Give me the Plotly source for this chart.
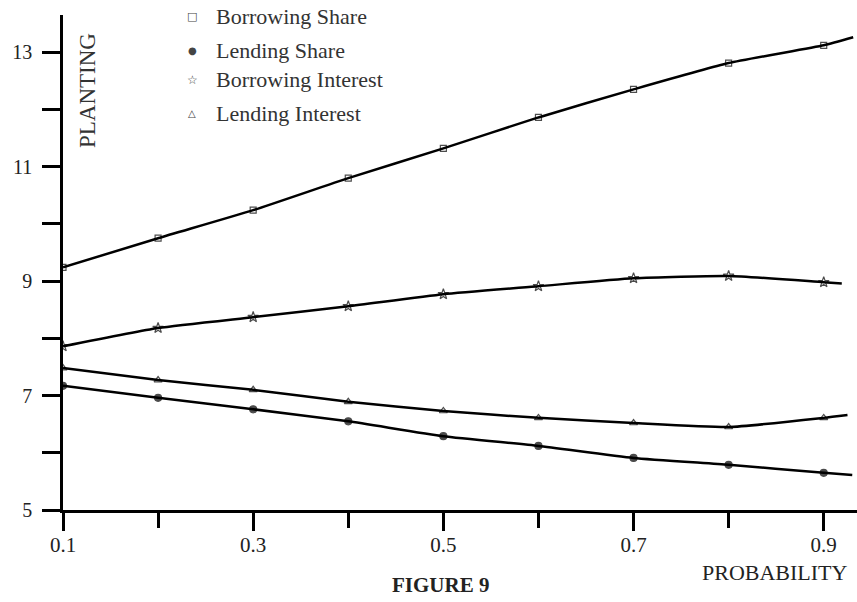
import plotly.graph_objects as go

# ---- data ----
probability = [0.1, 0.2, 0.3, 0.4, 0.5, 0.6, 0.7, 0.8, 0.9]

series_names = ["Borrowing Share", "Lending Share", "Borrowing Interest", "Lending Interest"]
borrowing_share = [9.24, 9.75, 10.24, 10.80, 11.32, 11.86, 12.35, 12.81, 13.12]
lending_share = [7.17, 6.96, 6.76, 6.55, 6.29, 6.12, 5.91, 5.79, 5.65]
borrowing_interest = [7.86, 8.18, 8.37, 8.56, 8.77, 8.91, 9.05, 9.09, 8.98]
lending_interest = [7.48, 7.27, 7.10, 6.89, 6.73, 6.61, 6.52, 6.45, 6.61]

# where each curve runs off past the last marked point
tail_x = [0.931, 0.93, 0.919, 0.925]
tail_y = [13.26, 5.61, 8.96, 6.66]

x_major_vals = [0.1, 0.3, 0.5, 0.7, 0.9]
x_major_text = ["0.1", "0.3", "0.5", "0.7", "0.9"]
x_minor_vals = [0.2, 0.4, 0.6, 0.8]
y_tick_vals = [5, 6, 7, 8, 9, 10, 11, 12, 13]
y_tick_text = ["5", "", "7", "", "9", "", "11", "", "13"]

values = [borrowing_share, lending_share, borrowing_interest, lending_interest]
symbols = ["square-open", "circle", "star-open", "triangle-up-open"]
sizes = [6, 7, 8, 7]
legend_glyphs = ["\u25a1", "\u25cf", "\u2606", "\u25b3"]
legend_glyph_sizes = [11, 10, 12, 10]

SERIF = "Liberation Serif, Times New Roman, serif"
fig = go.Figure()

for name, vals, sym, size, tx, ty in zip(series_names, values, symbols, sizes, tail_x, tail_y):
    fig.add_trace(go.Scatter(
        x=probability + [tx], y=vals + [ty], mode="lines+markers", name=name,
        showlegend=False,
        line=dict(color="black", width=2.5, shape="spline", smoothing=0.5),
        marker=dict(symbol=sym, size=[size] * len(vals) + [0], color="black",
                    line=dict(color="black", width=1.2)),
        hoverinfo="skip",
    ))

# legend drawn as text (positions in paper fraction of the plot area)
legend_y = [0.996, 0.929, 0.869, 0.802]
annotations = []
for name, glyph, gsize, ly in zip(series_names, legend_glyphs, legend_glyph_sizes, legend_y):
    annotations.append(dict(text=glyph, xref="paper", yref="paper", x=0.1625, y=ly,
                            xanchor="center", yanchor="middle", showarrow=False,
                            font=dict(size=gsize, family="DejaVu Sans", color="#444")))
    annotations.append(dict(text=name, xref="paper", yref="paper", x=0.1905, y=ly,
                            xanchor="left", yanchor="middle", showarrow=False,
                            font=dict(size=22, family=SERIF, color="#333")))

annotations += [
    dict(text="PLANTING", xref="paper", yref="paper", x=0.030, y=0.848,
         xanchor="center", yanchor="middle",
         textangle=-90, showarrow=False, font=dict(size=23, family=SERIF, color="#333")),
    dict(text="PROBABILITY", xref="paper", yref="paper", x=0.897, y=-0.127,
         xanchor="center", yanchor="middle",
         showarrow=False, font=dict(size=22, family=SERIF, color="#222")),
    dict(text="<b>FIGURE 9</b>", xref="paper", yref="paper", x=0.476, y=-0.152,
         xanchor="center", yanchor="middle",
         showarrow=False, font=dict(size=21, family=SERIF, color="#222")),
]

fig.update_layout(
    width=857, height=602,
    margin=dict(l=63, r=0, t=15, b=92, autoexpand=False),
    paper_bgcolor="white", plot_bgcolor="white",
    font=dict(family=SERIF, color="#222"),
    showlegend=False,
    xaxis=dict(range=[0.1, 0.935], showgrid=False, zeroline=False,
               showline=True, linecolor="black", linewidth=3,
               ticks="outside", ticklen=18, tickwidth=2.5, tickcolor="black",
               tickvals=x_major_vals, ticktext=x_major_text, ticklabelstandoff=-4,
               minor=dict(tickvals=x_minor_vals, ticks="outside", ticklen=15,
                          tickwidth=2.5, tickcolor="black", showgrid=False),
               tickfont=dict(size=21, family=SERIF, color="#222")),
    yaxis=dict(range=[5, 13.65], showgrid=False, zeroline=False,
               showline=True, linecolor="black", linewidth=2.5,
               ticks="outside", ticklen=18, tickwidth=2.5, tickcolor="black",
               tickvals=y_tick_vals, ticktext=y_tick_text, ticklabelstandoff=6,
               tickfont=dict(size=20, family=SERIF, color="#222")),
    annotations=annotations,
)

# remove the page's default body margin so the figure fills the window exactly
fig.write_html("out.html", config={"displayModeBar": False},
               post_script="document.body.style.margin='0';document.body.style.overflow='hidden';")
